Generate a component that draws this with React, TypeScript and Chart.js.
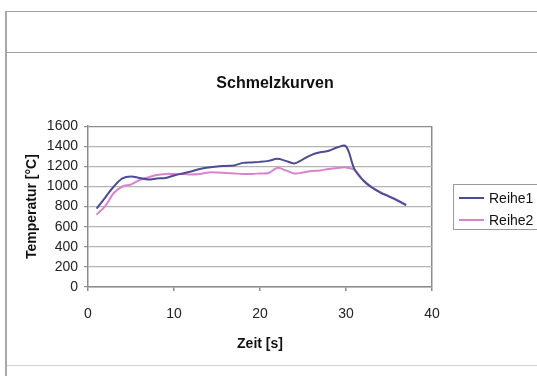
import React, { useEffect, useRef } from "react";
import { Chart, registerables } from "chart.js";

Chart.register(...registerables);

const chartTitle = "Schmelzkurven";
const xTitle = "Zeit [s]";
const yTitle = "Temperatur [°C]";
const seriesNames = ["Reihe1", "Reihe2"];
const seriesColors = ["#4c4c96", "#d884cc"];

const seconds = [
  1, 2, 3, 4, 5, 6, 7, 8, 9, 10, 11, 12, 13, 14, 15, 16, 17, 18, 19, 20,
  21, 22, 23, 24, 25, 26, 27, 28, 29, 30, 31, 32, 33, 34, 35, 36, 37,
];
const reihe1 = [
  780, 890, 1000, 1080, 1100, 1085, 1070, 1080, 1085, 1110, 1130, 1150, 1175,
  1190, 1200, 1205, 1210, 1235, 1240, 1245, 1255, 1275, 1255, 1230, 1270, 1315,
  1340, 1355, 1390, 1400, 1170, 1060, 990, 940, 900, 860, 815,
];
const reihe2 = [
  720, 805, 935, 1000, 1020, 1065, 1090, 1115, 1125, 1125, 1125, 1120, 1125,
  1140, 1140, 1135, 1130, 1125, 1125, 1130, 1135, 1185, 1160, 1130, 1140, 1155,
  1160, 1175, 1185, 1190, 1165, 1065, 995, 945, 905, 865, 820,
];
const xMin = 0;
const xMax = 40;
const xStep = 10;
const yMin = 0;
const yMax = 1600;
const yStep = 200;

const FONT = "'Liberation Sans', Arial, sans-serif";
const CANVAS_W = 550;

const legendPlugin = {
  id: "boxLegend",
  afterDraw(chart: any) {
    const ctx = chart.ctx;
    ctx.save();
    ctx.strokeStyle = "#9a9a9a";
    ctx.lineWidth = 1;
    ctx.strokeRect(453.5, 184.5, 100, 45);
    chart.data.datasets.forEach((ds: any, i: number) => {
      const y = 198 + i * 22;
      ctx.strokeStyle = ds.borderColor;
      ctx.lineWidth = 2;
      ctx.beginPath();
      ctx.moveTo(459, y);
      ctx.lineTo(484, y);
      ctx.stroke();
      ctx.fillStyle = "#111";
      ctx.font = `14px ${FONT}`;
      ctx.textBaseline = "middle";
      ctx.textAlign = "left";
      ctx.fillText(ds.label, 489, y + 1);
    });
    ctx.restore();
  },
};

export default function App() {
  const ref = useRef<HTMLCanvasElement | null>(null);

  useEffect(() => {
    if (!ref.current) return;
    const mk = (vals: number[]) => seconds.map((s, i) => ({ x: s, y: vals[i] }));
    const chart = new Chart(ref.current, {
      type: "line",
      data: {
        datasets: [
          {
            label: seriesNames[0],
            data: mk(reihe1),
            borderColor: seriesColors[0],
            borderWidth: 2,
            pointRadius: 0,
            tension: 0.35,
            fill: false,
          },
          {
            label: seriesNames[1],
            data: mk(reihe2),
            borderColor: seriesColors[1],
            borderWidth: 2,
            pointRadius: 0,
            tension: 0.35,
            fill: false,
          },
        ],
      },
      options: {
        animation: false,
        responsive: false,
        maintainAspectRatio: false,
        devicePixelRatio: 1,
        layout: { padding: { top: 74, right: 0, bottom: 0, left: 0 } },
        plugins: {
          legend: { display: false },
          tooltip: { enabled: false },
          title: {
            display: true,
            text: chartTitle,
            color: "#111",
            font: { family: FONT, size: 16, weight: "bold" },
            padding: { top: 0, bottom: 33 },
          },
        },
        scales: {
          x: {
            type: "linear",
            min: xMin,
            max: xMax,
            ticks: {
              stepSize: xStep,
              color: "#222",
              font: { family: FONT, size: 14 },
              padding: 15,
              maxRotation: 0,
            },
            grid: {
              drawOnChartArea: true,
              color: (c: any) => (c.tick && c.tick.value === xMax ? "#8c8c8c" : "rgba(0,0,0,0)"),
              tickColor: "#8c8c8c",
              tickLength: 4,
              lineWidth: 1.5,
            },
            border: { display: true, color: "#8c8c8c", width: 1.5 },
            title: {
              display: true,
              text: xTitle,
              color: "#111",
              font: { family: FONT, size: 14, weight: "bold" },
              padding: { top: 4, bottom: 23 },
            },
            afterFit: (s: any) => {
              s.height = 89;
            },
          },
          y: {
            min: yMin,
            max: yMax,
            ticks: {
              stepSize: yStep,
              color: "#222",
              font: { family: FONT, size: 14 },
              padding: 6,
              callback: (v: any) => String(v),
            },
            grid: {
              color: (c: any) => (c.tick && c.tick.value === yMax ? "#8c8c8c" : "#b4b4b4"),
              tickColor: "#8c8c8c",
              tickLength: 4,
              lineWidth: 1.2,
            },
            border: { display: true, color: "#8c8c8c", width: 1.5 },
            title: {
              display: true,
              text: yTitle,
              color: "#111",
              font: { family: FONT, size: 14, weight: "bold" },
              padding: { top: 24, bottom: 4 },
            },
            afterFit: (s: any) => {
              s.width = 88;
            },
          },
          spacer: {
            type: "linear",
            position: "right",
            min: 0,
            max: 1,
            ticks: { display: false },
            grid: { display: false, drawTicks: false },
            border: { display: false },
            afterFit: (s: any) => {
              s.width = CANVAS_W - 432;
            },
          },
        },
      },
      plugins: [legendPlugin],
    });
    return () => chart.destroy();
  }, []);

  const line = (style: React.CSSProperties) => (
    <div style={{ position: "absolute", background: "#a0a0a0", ...style }} />
  );

  return (
    <div style={{ position: "fixed", left: 0, top: 0, width: 537, height: 376, background: "#fff", overflow: "hidden" }}>
      {line({ left: 6, top: 11, width: 531, height: 1 })}
      {line({ left: 6, top: 52, width: 531, height: 1 })}
      {line({ left: 6, top: 365, width: 531, height: 1, background: "#d0d0d0" })}
      {line({ left: 5, top: 11, width: 2, height: 365, background: "#a8a8a8" })}
      <canvas
        ref={ref}
        width={CANVAS_W}
        height={376}
        style={{ position: "absolute", left: 0, top: 0, width: CANVAS_W, height: 376 }}
      />
    </div>
  );
}
